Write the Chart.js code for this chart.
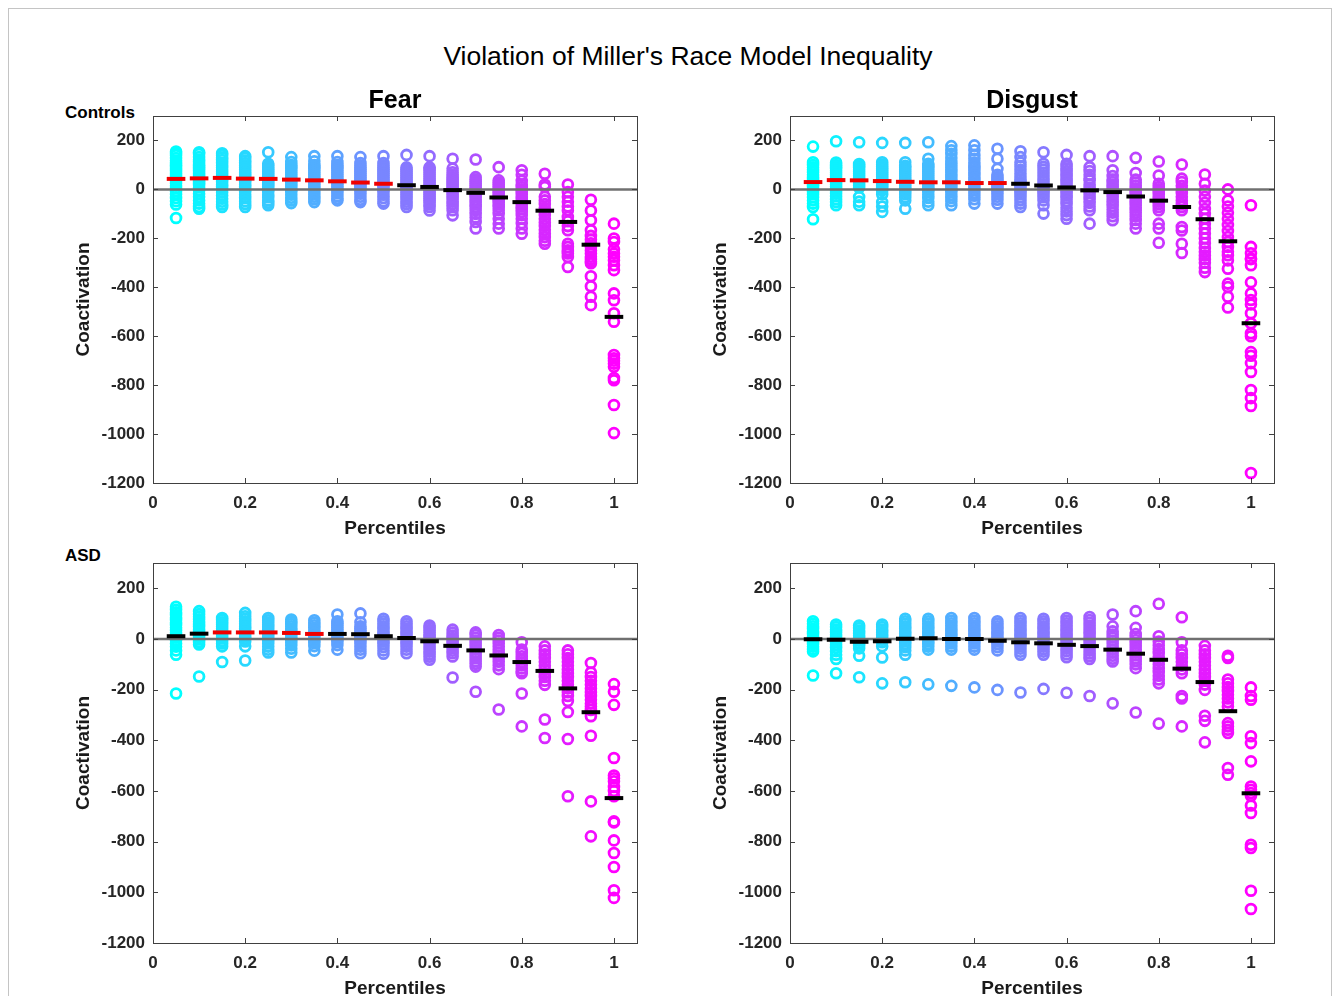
<!DOCTYPE html>
<html>
<head>
<meta charset="utf-8">
<title>Violation of Miller's Race Model Inequality</title>
<script src="https://cdn.jsdelivr.net/npm/chart.js@4.4.1/dist/chart.umd.min.js"></script>
<style>
  body { margin: 0; width: 1333px; height: 996px; overflow: hidden; position: relative; background: #fff;
         font-family: "Liberation Sans", Arial, sans-serif; }
  .frame { position: absolute; left: 8px; top: 8px; width: 1322px; height: 1000px; border: 1px solid #c4c4c4; }
  .txt { position: absolute; white-space: nowrap; color: #000; }
  .sup { left: 688px; top: 41px; transform: translateX(-50%); font-size: 26.5px; line-height: 30px; }
  .row { left: 65px; font-size: 17px; font-weight: bold; line-height: 20px; }
  .box { position: absolute; }
</style>
</head>
<body>
<div class="frame"></div>
<div class="txt sup">Violation of Miller's Race Model Inequality</div>
<div class="txt row" style="top:103px">Controls</div>
<div class="txt row" style="top:546px">ASD</div>

<div class="box" style="left:60px;top:80px"><canvas id="fearCtl" width="600" height="470"></canvas></div>
<div class="box" style="left:697px;top:80px"><canvas id="disCtl" width="600" height="470"></canvas></div>
<div class="box" style="left:60px;top:527px"><canvas id="fearAsd" width="600" height="483"></canvas></div>
<div class="box" style="left:697px;top:527px"><canvas id="disAsd" width="600" height="483"></canvas></div>

<script>
'use strict';

// ***** DATA *****
let percentiles = [0.05, 0.1, 0.15, 0.2, 0.25, 0.3, 0.35, 0.4, 0.45, 0.5,
  0.55, 0.6, 0.65, 0.7, 0.75, 0.8, 0.85, 0.9, 0.95, 1];

let xTicks = [0, 0.2, 0.4, 0.6, 0.8, 1];
let yTicks = [-1200, -1000, -800, -600, -400, -200, 0, 200];

// Controls - Fear (one list per percentile)
let fearCtl = [
  [155, 148, 140, 128, 118, 110, 100, 92, 85, 75, 66, 58, 50, 42, 35, 25, 15, 5, -8, -20, -35, -48, -62, -117],
  [152, 145, 132, 122, 112, 100, 92, 84, 75, 66, 58, 50, 42, 34, 26, 18, 8, -5, -18, -30, -45, -58, -72, -79],
  [148, 140, 130, 120, 108, 98, 90, 80, 72, 64, 56, 48, 40, 30, 20, 10, 0, -12, -25, -38, -50, -62, -72],
  [136, 128, 118, 108, 98, 90, 80, 70, 62, 54, 46, 38, 30, 20, 10, 0, -10, -22, -35, -48, -60, -72],
  [152, 105, 98, 90, 82, 74, 66, 58, 50, 42, 34, 26, 18, 10, 0, -10, -22, -32, -45, -55, -65],
  [132, 112, 100, 92, 84, 76, 68, 60, 52, 44, 36, 28, 20, 10, 0, -10, -22, -34, -45, -56],
  [136, 115, 100, 92, 84, 76, 68, 60, 52, 44, 36, 28, 20, 12, 2, -8, -20, -30, -40, -52],
  [136, 112, 100, 92, 84, 76, 68, 60, 52, 44, 36, 28, 20, 12, 4, -6, -16, -28, -38, -45],
  [132, 108, 98, 90, 82, 74, 66, 58, 50, 42, 34, 26, 18, 10, 2, -8, -18, -30, -42, -52],
  [136, 108, 98, 90, 82, 74, 66, 58, 50, 42, 34, 26, 18, 10, 0, -10, -22, -35, -48, -58],
  [141, 90, 82, 74, 66, 58, 50, 42, 34, 26, 18, 10, 2, -6, -14, -22, -30, -40, -50, -60, -72],
  [136, 90, 84, 76, 68, 60, 52, 44, 36, 28, 20, 12, 4, -4, -12, -20, -28, -36, -44, -52, -62, -72, -86],
  [125, 85, 70, 60, 50, 42, 34, 26, 18, 10, 2, -6, -14, -22, -30, -40, -50, -60, -72, -85, -106],
  [122, 50, 40, 32, 24, 16, 8, 0, -8, -16, -24, -32, -42, -52, -62, -72, -85, -100, -115, -133, -160],
  [91, 37, 28, 20, 12, 4, -4, -12, -20, -28, -36, -44, -52, -62, -72, -85, -100, -120, -140, -160],
  [78, 60, 35, 20, 10, 0, -10, -20, -30, -40, -50, -60, -70, -80, -92, -105, -120, -138, -160, -181],
  [64, 20, 10, -30, -45, -60, -75, -90, -105, -120, -135, -150, -165, -180, -195, -210, -222],
  [20, -11, -30, -50, -70, -86, -113, -130, -150, -167, -222, -235, -249, -255, -262, -276, -317],
  [-42, -86, -126, -167, -190, -205, -220, -235, -250, -262, -275, -285, -295, -302, -355, -396, -439, -473],
  [-140, -201, -215, -245, -262, -275, -290, -310, -330, -425, -453, -506, -541, -677, -690, -700, -712, -725, -771, -780, -881, -996]
];
let fearCtlMed = [43, 45, 47, 44, 43, 40, 37, 33, 28, 23, 17, 10, -3, -14, -33, -52, -87, -133, -226, -521];
let fearCtlSig = [1, 1, 1, 1, 1, 1, 1, 1, 1, 1, 0, 0, 0, 0, 0, 0, 0, 0, 0, 0];

// Controls - Disgust
let disCtl = [
  [175, 111, 100, 90, 80, 70, 60, 50, 42, 34, 26, 18, 10, 0, -10, -20, -32, -45, -58, -72, -122],
  [197, 110, 100, 92, 84, 76, 68, 60, 52, 44, 36, 28, 20, 12, 4, -6, -16, -28, -40, -52, -65],
  [193, 104, 96, 88, 80, 72, 64, 56, 48, 40, 32, 24, 16, 8, -31, -50, -65],
  [190, 111, 102, 94, 86, 78, 70, 62, 54, 46, 38, 30, 22, 14, 6, -4, -20, -52, -70, -92],
  [190, 111, 96, 88, 80, 72, 64, 56, 48, 40, 32, 24, 16, 8, 0, -10, -20, -32, -45, -79],
  [193, 125, 105, 96, 88, 80, 72, 64, 56, 48, 40, 32, 24, 16, 8, 0, -10, -22, -35, -50, -65],
  [177, 160, 145, 128, 112, 100, 90, 80, 70, 60, 50, 40, 30, 20, 10, 0, -10, -22, -35, -48, -65],
  [180, 160, 140, 125, 110, 98, 88, 78, 68, 58, 48, 38, 28, 18, 8, -2, -14, -26, -40, -58],
  [166, 125, 84, 60, 50, 42, 34, 26, 18, 10, 2, -8, -18, -30, -42, -58],
  [156, 132, 110, 95, 80, 65, 52, 40, 30, 20, 10, 0, -10, -20, -32, -45, -58, -72],
  [152, 105, 92, 80, 68, 56, 44, 32, 20, 10, 0, -10, -20, -32, -45, -65, -99],
  [141, 105, 95, 85, 75, 65, 55, 45, 35, 25, 15, 5, -5, -15, -25, -35, -48, -60, -75, -90, -105, -120],
  [136, 91, 75, 60, 45, 37, 20, 8, -5, -15, -28, -40, -55, -70, -85, -140],
  [136, 78, 55, 40, 30, 20, 10, 0, -10, -20, -30, -42, -55, -68, -82, -95, -110, -126],
  [129, 67, 40, 28, 16, 5, -5, -15, -25, -35, -45, -55, -65, -75, -85, -95, -110, -125, -140, -160],
  [114, 57, 23, 10, 0, -10, -20, -30, -40, -50, -60, -72, -85, -140, -160, -218],
  [102, 44, 30, 15, 0, -15, -30, -45, -60, -72, -85, -154, -168, -222, -260],
  [61, 23, -5, -30, -55, -80, -100, -120, -140, -160, -180, -200, -220, -240, -255, -270, -285, -300, -320, -338],
  [0, -45, -70, -95, -120, -145, -170, -195, -215, -235, -255, -269, -290, -324, -385, -399, -439, -483],
  [-65, -235, -261, -283, -285, -310, -380, -425, -452, -470, -506, -547, -588, -600, -665, -680, -710, -746, -820, -853, -885, -1159]
];
let disCtlMed = [30, 38, 37, 34, 31, 29, 29, 26, 26, 23, 16, 8, -4, -11, -29, -46, -72, -122, -212, -547];
let disCtlSig = [1, 1, 1, 1, 1, 1, 1, 1, 1, 0, 0, 0, 0, 0, 0, 0, 0, 0, 0, 0];

// ASD - Fear
let fearAsd = [
  [127, 115, 105, 95, 85, 75, 65, 55, 45, 35, 25, 15, 5, -5, -18, -30, -45, -62, -215],
  [110, 98, 88, 78, 68, 58, 48, 38, 28, 18, 8, -2, -12, -22, -148],
  [83, 75, 66, 58, 50, 42, 34, 26, 18, 10, 2, -8, -18, -29, -91],
  [103, 90, 80, 70, 60, 50, 40, 30, 20, 10, 0, -10, -29, -85],
  [83, 74, 65, 56, 47, 38, 29, 20, 11, 2, -8, -18, -30, -42, -53],
  [77, 68, 59, 50, 41, 32, 23, 14, 5, -4, -14, -25, -38, -53],
  [74, 64, 54, 44, 34, 24, 14, 4, -6, -16, -28, -46],
  [97, 70, 62, 54, 46, 38, 30, 22, 14, 6, -2, -12, -24, -42],
  [101, 66, 50, 42, 34, 26, 18, 10, 2, -8, -18, -30, -42, -56],
  [80, 70, 60, 50, 40, 30, 20, 10, 0, -10, -20, -32, -45, -58],
  [70, 60, 50, 40, 30, 20, 10, 0, -10, -20, -30, -42, -56],
  [53, 44, 35, 26, 17, 8, -1, -10, -20, -30, -40, -50, -60, -70, -82],
  [37, 25, 14, 4, -6, -16, -26, -36, -46, -56, -69, -152],
  [26, 16, 5, -6, -17, -28, -40, -52, -64, -76, -88, -98, -109, -208],
  [16, 5, -6, -18, -30, -42, -54, -66, -78, -90, -104, -119, -278],
  [-13, -42, -55, -68, -80, -92, -104, -116, -128, -135, -215, -345],
  [-29, -45, -60, -75, -90, -105, -120, -135, -150, -165, -181, -318, -391],
  [-45, -60, -75, -90, -105, -120, -135, -150, -165, -180, -195, -210, -225, -245, -288, -395, -621],
  [-95, -132, -150, -165, -180, -195, -210, -225, -240, -255, -266, -280, -305, -382, -641, -779],
  [-178, -208, -260, -470, -539, -550, -562, -584, -600, -621, -720, -724, -795, -845, -900, -992, -1022]
];
let fearAsdMed = [11, 21, 26, 26, 26, 24, 20, 20, 19, 11, 4, -9, -27, -45, -65, -91, -126, -195, -289, -628];
let fearAsdSig = [0, 0, 1, 1, 1, 1, 1, 0, 0, 0, 0, 0, 0, 0, 0, 0, 0, 0, 0, 0];

// ASD - Disgust
let disAsd = [
  [70, 60, 50, 40, 30, 20, 10, 0, -10, -20, -30, -40, -49, -144],
  [57, 47, 37, 27, 17, 7, -3, -13, -23, -35, -48, -62, -79, -135],
  [53, 43, 33, 23, 13, 3, -7, -17, -27, -37, -66, -151],
  [57, 47, 37, 27, 17, 7, -3, -13, -29, -73, -175],
  [80, 70, 60, 50, 40, 30, 20, 10, 0, -10, -20, -32, -45, -62, -171],
  [80, 70, 60, 50, 40, 30, 20, 10, 0, -10, -20, -30, -42, -179],
  [83, 72, 62, 52, 42, 32, 22, 12, 2, -8, -18, -30, -42, -185],
  [83, 72, 62, 52, 42, 32, 22, 12, 2, -8, -18, -30, -42, -191],
  [70, 60, 50, 40, 30, 20, 10, 0, -10, -20, -32, -45, -201],
  [83, 72, 62, 52, 42, 32, 22, 12, 2, -8, -18, -28, -38, -50, -62, -211],
  [80, 70, 60, 50, 40, 30, 20, 10, 0, -10, -20, -30, -40, -50, -62, -197],
  [83, 72, 62, 52, 42, 32, 22, 12, 2, -8, -18, -28, -38, -48, -60, -72, -212],
  [87, 75, 64, 53, 42, 31, 20, 9, -2, -13, -24, -35, -46, -57, -68, -79, -225],
  [97, 50, 30, 18, 6, -6, -18, -30, -42, -54, -66, -78, -89, -254],
  [110, 44, 20, 8, -4, -16, -28, -40, -52, -64, -76, -88, -100, -115, -290],
  [139, 11, -10, -25, -40, -55, -70, -85, -100, -115, -130, -145, -160, -175, -334],
  [86, -13, -45, -60, -75, -90, -105, -120, -135, -225, -235, -345],
  [-27, -45, -60, -75, -90, -105, -120, -135, -150, -165, -180, -201, -303, -323, -408],
  [-66, -75, -160, -175, -190, -205, -220, -235, -250, -266, -332, -345, -358, -371, -509, -536],
  [-191, -225, -240, -384, -411, -483, -582, -595, -608, -620, -657, -687, -812, -825, -994, -1066]
];
let disAsdMed = [-1, -3, -11, -9, 1, 3, 0, 0, -7, -13, -17, -23, -28, -42, -58, -82, -117, -170, -285, -609];
let disAsdSig = [0, 0, 0, 0, 0, 0, 0, 0, 0, 0, 0, 0, 0, 0, 0, 0, 0, 0, 0, 0];

// ***** HELPERS *****
Chart.defaults.font.family = '"Liberation Sans", Arial, sans-serif';
Chart.defaults.color = '#262626';

// MATLAB "cool" colormap, one colour per percentile
function coolColor(i) {
  let t = i / (percentiles.length - 1);
  return `rgb(${Math.round(255 * t)}, ${Math.round(255 * (1 - t))}, 255)`;
}

// box round the axes, with inward ticks on all four sides
let boxPlugin = {
  id: 'boxPlugin',
  afterDraw(chart) {
    let ctx = chart.ctx;
    let a = chart.chartArea;
    let x = chart.scales.x;
    let y = chart.scales.y;
    ctx.save();
    ctx.strokeStyle = '#404040';
    ctx.lineWidth = 1;
    ctx.strokeRect(Math.round(a.left) + 0.5, Math.round(a.top) + 0.5, Math.round(a.right - a.left), Math.round(a.bottom - a.top));
    ctx.beginPath();
    xTicks.forEach(v => {
      let px = Math.round(x.getPixelForValue(v)) + 0.5;
      ctx.moveTo(px, a.bottom); ctx.lineTo(px, a.bottom - 5);
      ctx.moveTo(px, a.top); ctx.lineTo(px, a.top + 5);
    });
    yTicks.forEach(v => {
      let py = Math.round(y.getPixelForValue(v)) + 0.5;
      ctx.moveTo(a.left, py); ctx.lineTo(a.left + 5, py);
      ctx.moveTo(a.right, py); ctx.lineTo(a.right - 5, py);
    });
    ctx.stroke();
    ctx.restore();
  }
};

function makePanel(canvasId, cols, meds, sig, title, padTop) {
  let datasets = [];

  for (let i = 0; i < cols.length; i++) {
    datasets.push({
      type: 'scatter',
      data: cols[i].map(v => ({ x: percentiles[i], y: v })),
      pointStyle: 'circle',
      pointRadius: 4.9,
      pointBorderWidth: 2.8,
      pointBorderColor: coolColor(i),
      pointBackgroundColor: 'rgba(0,0,0,0)',
      order: 3
    });
  }

  // zero reference line
  datasets.push({
    type: 'line',
    data: [{ x: 0, y: 0 }, { x: 1.05, y: 0 }],
    borderColor: '#707070',
    borderWidth: 2.5,
    pointRadius: 0,
    order: 2
  });

  // group medians (red = significant violation)
  datasets.push({
    type: 'scatter',
    data: meds.map((v, i) => ({ x: percentiles[i], y: v })),
    pointStyle: 'line',
    pointRadius: 9.3,
    pointBorderWidth: 4,
    pointBorderColor: sig.map(s => (s ? '#f00000' : '#000000')),
    order: 1
  });

  new Chart(document.getElementById(canvasId), {
    type: 'scatter',
    data: { datasets: datasets },
    options: {
      responsive: false,
      animation: false,
      events: [],
      layout: { padding: { left: 0, right: 23, top: padTop, bottom: 0 } },
      plugins: {
        legend: { display: false },
        tooltip: { enabled: false },
        title: {
          display: !!title,
          text: title,
          fullSize: false,
          color: '#000',
          font: { size: 25, weight: 'bold' },
          padding: { top: 6, bottom: 0 }
        }
      },
      scales: {
        x: {
          type: 'linear',
          min: 0,
          max: 1.05,
          afterBuildTicks: s => { s.ticks = xTicks.map(v => ({ value: v })); },
          afterFit: s => { s.height = 67; },
          grid: { display: false, drawTicks: false },
          border: { display: false },
          ticks: { padding: 10, autoSkip: false, maxRotation: 0, font: { size: 17, weight: 'bold' }, callback: v => String(v) },
          title: { display: true, text: 'Percentiles', color: '#1a1a1a', font: { size: 19, weight: 'bold' }, padding: { top: 0, bottom: 9.6 } }
        },
        y: {
          type: 'linear',
          min: -1200,
          max: 300,
          afterBuildTicks: s => { s.ticks = yTicks.map(v => ({ value: v })); },
          afterFit: s => { s.width = 93; },
          grid: { display: false, drawTicks: false },
          border: { display: false },
          ticks: { padding: 8, autoSkip: false, font: { size: 17, weight: 'bold' }, callback: v => String(v) },
          title: { display: true, text: 'Coactivation', color: '#1a1a1a', font: { size: 19, weight: 'bold' }, padding: { top: 12.6, bottom: 0 } }
        }
      }
    },
    plugins: [boxPlugin]
  });
}

makePanel('fearCtl', fearCtl, fearCtlMed, fearCtlSig, 'Fear', 0);
makePanel('disCtl', disCtl, disCtlMed, disCtlSig, 'Disgust', 0);
makePanel('fearAsd', fearAsd, fearAsdMed, fearAsdSig, '', 36);
makePanel('disAsd', disAsd, disAsdMed, disAsdSig, '', 36);
</script>
</body>
</html>
